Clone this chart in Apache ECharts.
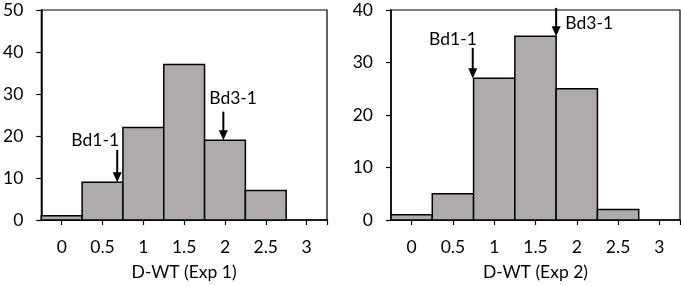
<!DOCTYPE html>
<html>
<head>
<meta charset="utf-8">
<script src="https://cdn.jsdelivr.net/npm/echarts@6/dist/echarts.min.js"></script>
<style>
  html, body { margin: 0; padding: 0; background: #fff; }
  #chart { width: 681px; height: 286px; }
</style>
</head>
<body>
<div id="chart"></div>
<script>
// bin centres (D-WT), bin width 0.5
const binCenters = [0, 0.5, 1, 1.5, 2, 2.5, 3];
const BIN = 0.5;
const exp1Counts = [1, 9, 22, 37, 19, 7, 0];
const exp2Counts = [1, 5, 27, 35, 25, 2, 0];
const xTicks = [0, 0.5, 1, 1.5, 2, 2.5, 3];

// markers: [x, arrowFrom, arrowTo, labelX, labelY]
const exp1Markers = [[0.68, 16.7, 9, 0.41, 19], [1.98, 25.8, 19, 2.10, 29]];
const exp2Markers = [[0.74, 32.8, 27, 0.50, 34.5], [1.75, 40.4, 35, 2.15, 37.5]];
const markerNames = ['Bd1-1', 'Bd3-1'];

const FONT = 'Lato, "Open Sans", sans-serif';
const FS = 17.5;
const BAR_FILL = '#afabab';

const chart = echarts.init(document.getElementById('chart'), null, { renderer: 'canvas' });

function barSeries(counts, idx) {
  return {
    type: 'custom',
    xAxisIndex: idx,
    yAxisIndex: idx,
    data: binCenters.map((c, i) => [c, counts[i]]),
    renderItem: (params, api) => {
      const x = api.value(0), y = api.value(1);
      if (!y) return null;
      const p0 = api.coord([x - BIN / 2, y]);
      const p1 = api.coord([x + BIN / 2, 0]);
      return {
        type: 'rect',
        shape: { x: p0[0], y: p0[1], width: p1[0] - p0[0], height: p1[1] - p0[1] },
        style: { fill: BAR_FILL, stroke: '#000', lineWidth: 1.5 }
      };
    }
  };
}

function markerSeries(markers, idx) {
  return {
    type: 'custom',
    xAxisIndex: idx,
    yAxisIndex: idx,
    clip: false,
    z: 5,
    data: markers,
    renderItem: (params, api) => {
      const top = api.coord([api.value(0), api.value(1)]);
      const tip = api.coord([api.value(0), api.value(2)]);
      const lab = api.coord([api.value(3), api.value(4)]);
      const head = 10, hw = 4.5;
      return {
        type: 'group',
        children: [
          {
            type: 'line',
            shape: { x1: top[0], y1: top[1], x2: tip[0], y2: tip[1] - head + 1 },
            style: { stroke: '#000', lineWidth: 2 }
          },
          {
            type: 'polygon',
            shape: { points: [[tip[0], tip[1]], [tip[0] - hw, tip[1] - head], [tip[0] + hw, tip[1] - head]] },
            style: { fill: '#000' }
          },
          {
            type: 'text',
            style: {
              text: markerNames[params.dataIndex],
              x: lab[0], y: lab[1],
              align: 'center', verticalAlign: 'middle',
              fill: '#000', font: FS + 'px ' + FONT
            }
          }
        ]
      };
    }
  };
}

function xAxis(idx, name) {
  return {
    gridIndex: idx,
    type: 'value',
    min: -0.25,
    max: 3.25,
    name: name,
    nameLocation: 'middle',
    nameGap: 43,
    nameTextStyle: { color: '#000', fontSize: FS, fontFamily: FONT },
    axisLine: { show: true, onZero: false, lineStyle: { color: '#000', width: 1.5 } },
    axisTick: { show: true, length: 5, customValues: xTicks.concat([3.25]), lineStyle: { color: '#000', width: 1.2 } },
    axisLabel: { customValues: xTicks, margin: 18, color: '#000', fontSize: FS, fontFamily: FONT },
    splitLine: { show: false }
  };
}

function yAxis(idx, max) {
  return {
    gridIndex: idx,
    type: 'value',
    min: 0,
    max: max,
    interval: 10,
    axisLine: { show: true, onZero: false, lineStyle: { color: '#000', width: 1.5 } },
    axisTick: { show: true, length: 5, lineStyle: { color: '#000', width: 1.2 } },
    axisLabel: { margin: 18, color: '#000', fontSize: FS, fontFamily: FONT },
    splitLine: { show: false }
  };
}

chart.setOption({
  animation: false,
  grid: [
    { left: 38, top: 10, width: 289, height: 210, show: true, borderColor: '#000', borderWidth: 1.2 },
    { left: 391, top: 10, width: 289, height: 210, show: true, borderColor: '#000', borderWidth: 1.2 }
  ],
  xAxis: [xAxis(0, 'D-WT (Exp 1)'), xAxis(1, 'D-WT (Exp 2)')],
  yAxis: [yAxis(0, 50), yAxis(1, 40)],
  series: [
    barSeries(exp1Counts, 0),
    barSeries(exp2Counts, 1),
    markerSeries(exp1Markers, 0),
    markerSeries(exp2Markers, 1)
  ]
});
</script>
</body>
</html>
